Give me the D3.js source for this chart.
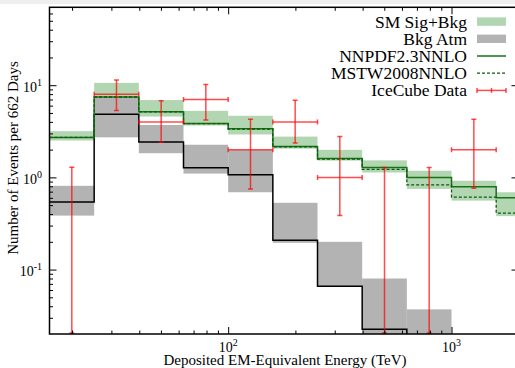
<!DOCTYPE html>
<html><head><meta charset="utf-8">
<script src="https://cdn.jsdelivr.net/npm/d3@7"></script>
<style>
body{margin:0;background:#fff;}
svg{display:block;}
text{font-family:"Liberation Serif","Times New Roman",serif;fill:#000;}
</style>
</head><body><svg id="c" width="515" height="368"></svg>
<script>
// ---- data ----
const binEdges   = [15.85, 25.12, 39.81, 63.10, 100, 158.5, 251.2, 398.1, 631.0, 1000, 1585, 2512];
const nnpdf      = [2.71, 7.45, 5.15, 3.85, 3.37, 2.16, 1.60, 1.28, 1.00, 0.79, 0.60];
const mstw       = [2.71, 7.45, 5.13, 3.83, 3.35, 2.14, 1.58, 1.22, 0.83, 0.61, 0.41];
const sigBkgHigh = [3.17, 10.6, 6.90, 5.27, 4.66, 2.77, 1.99, 1.53, 1.18, 0.92, 0.69];
const sigBkgLow  = [2.51, 5.80, 4.57, 3.65, 2.92, 2.05, 1.52, 1.13, 0.75, 0.56, 0.38];
const bkgAtm     = [0.54, 4.83, 2.42, 1.27, 1.07, 0.208, 0.066, 0.0225, 0.008, 0.003, 0.001];
const bkgAtmHigh = [0.81, 7.41, 3.70, 2.26, 1.99, 0.53, 0.20, 0.080, 0.037, 0.015, 0.005];
const bkgAtmLow  = [0.385, 2.72, 1.83, 1.10, 0.69, 0.195, 0.065, 0.012, 0.005, 0.002, 0.0008];
const dataEnergy = [19.95, 31.62, 50.12, 79.43, 125.9, 199.5, 316.2, 501.2, 794.3, 1259];
const dataCounts = [0, 8, 4, 7, 2, 4, 1, 0, 0, 2];
const dataUpper  = [1.29, 11.4, 6.8, 10.15, 4.28, 6.85, 2.77, 1.28, 1.28, 4.28];
const dataLower  = [0, 5.3, 2.4, 4.2, 0.75, 2.36, 0.385, 0, 0, 0.76];
const yMajor     = [0.1, 1, 10];
const yMajorExp  = ["-1", "0", "1"];
const yMinor     = [0.03,0.04,0.05,0.06,0.07,0.08,0.09,0.2,0.3,0.4,0.5,0.6,0.7,0.8,0.9,2,3,4,5,6,7,8,9,20,30,40,50,60];
const xMajor     = [100, 1000];
const xMajorExp  = ["2", "3"];
const xMinor     = [20,30,40,50,60,70,80,90,200,300,400,500,600,700,800,900];
const legendLabels = ["SM Sig+Bkg", "Bkg Atm", "NNPDF2.3NNLO", "MSTW2008NNLO", "IceCube Data"];

// ---- styles ----
const GREEN_BAND = "#b2d6b2", GRAY_BAND = "#b3b3b3", GREEN_LINE = "#157315", RED = "#ff0000";
const L = 49.5, R = 518.5, T = 7.3, B = 334;

const svg = d3.select("#c");
svg.append("rect").attr("x",0).attr("y",0).attr("width",515).attr("height",4).attr("fill","#efefef");

const x = d3.scaleLog().domain([binEdges[0], 1995]).range([L, R]);
const y = d3.scaleLog().domain([0.02, 70]).range([B, T]);

svg.append("clipPath").attr("id","clip").append("rect")
  .attr("x",L).attr("y",T).attr("width",R-L).attr("height",B-T);
const plot = svg.append("g").attr("clip-path","url(#clip)");

const nb = nnpdf.length;
const bins = d3.range(nb);

// bands
plot.append("g").selectAll("rect").data(bins).join("rect")
  .attr("x", i => x(binEdges[i])).attr("width", i => x(binEdges[i+1]) - x(binEdges[i]))
  .attr("y", i => y(sigBkgHigh[i])).attr("height", i => y(sigBkgLow[i]) - y(sigBkgHigh[i]))
  .attr("fill", GREEN_BAND);
plot.append("g").selectAll("rect").data(bins).join("rect")
  .attr("x", i => x(binEdges[i])).attr("width", i => x(binEdges[i+1]) - x(binEdges[i]))
  .attr("y", i => y(bkgAtmHigh[i])).attr("height", i => y(bkgAtmLow[i]) - y(bkgAtmHigh[i]))
  .attr("fill", GRAY_BAND);

// step lines
const step = d3.line().x(d => x(d[0])).y(d => y(d[1])).curve(d3.curveStepAfter);
const stepPts = vals => bins.map(i => [binEdges[i], vals[i]]).concat([[binEdges[nb], vals[nb-1]]]);
plot.append("path").attr("d", step(stepPts(bkgAtm))).attr("fill","none").attr("stroke","#000").attr("stroke-width",1.5);
plot.append("path").attr("d", step(stepPts(nnpdf))).attr("fill","none").attr("stroke",GREEN_LINE).attr("stroke-width",1.5);
plot.append("path").attr("d", step(stepPts(mstw))).attr("fill","none").attr("stroke","#0d5a0d").attr("stroke-width",1.3).attr("stroke-dasharray","3,2");

// data error bars
const dg = plot.append("g").attr("stroke",RED).attr("stroke-opacity",0.7).attr("stroke-width",1.5).attr("fill","none");
const cap = 2.5;
dataEnergy.forEach((e, i) => {
  const cx = x(e);
  const yTop = y(dataUpper[i]);
  const yBot = dataLower[i] > 0 ? y(dataLower[i]) : B;
  dg.append("line").attr("x1",cx).attr("x2",cx).attr("y1",yTop).attr("y2",yBot);
  dg.append("line").attr("x1",cx-cap).attr("x2",cx+cap).attr("y1",yTop).attr("y2",yTop);
  dg.append("line").attr("x1",cx-cap).attr("x2",cx+cap).attr("y1",yBot-(dataLower[i]>0?0:1)).attr("y2",yBot-(dataLower[i]>0?0:1));
  if (dataCounts[i] > 0) {
    const cy = y(dataCounts[i]);
    const x0 = x(binEdges[i]), x1 = x(binEdges[i+1]);
    dg.append("line").attr("x1",x0).attr("x2",x1).attr("y1",cy).attr("y2",cy);
    dg.append("line").attr("x1",x0).attr("x2",x0).attr("y1",cy-cap).attr("y2",cy+cap);
    dg.append("line").attr("x1",x1).attr("x2",x1).attr("y1",cy-cap).attr("y2",cy+cap);
  }
});

// axes (ticks inward, mirrored)
function styleAxis(g){ g.select(".domain").remove(); g.selectAll(".tick line").attr("stroke","#000").attr("stroke-width",1); }
svg.append("g").attr("transform",`translate(0,${B})`).call(d3.axisBottom(x).tickValues(xMajor).tickSize(-7).tickFormat("")).call(styleAxis);
svg.append("g").attr("transform",`translate(0,${B})`).call(d3.axisBottom(x).tickValues(xMinor).tickSize(-3.5).tickFormat("")).call(styleAxis);
svg.append("g").attr("transform",`translate(0,${T})`).call(d3.axisTop(x).tickValues(xMajor).tickSize(-7).tickFormat("")).call(styleAxis);
svg.append("g").attr("transform",`translate(0,${T})`).call(d3.axisTop(x).tickValues(xMinor).tickSize(-3.5).tickFormat("")).call(styleAxis);
svg.append("g").attr("transform",`translate(${L},0)`).call(d3.axisLeft(y).tickValues(yMajor).tickSize(-7).tickFormat("")).call(styleAxis);
svg.append("g").attr("transform",`translate(${L},0)`).call(d3.axisLeft(y).tickValues(yMinor).tickSize(-3.5).tickFormat("")).call(styleAxis);
svg.append("g").attr("transform",`translate(${R},0)`).call(d3.axisRight(y).tickValues(yMajor).tickSize(-7).tickFormat("")).call(styleAxis);
svg.append("g").attr("transform",`translate(${R},0)`).call(d3.axisRight(y).tickValues(yMinor).tickSize(-3.5).tickFormat("")).call(styleAxis);

svg.append("rect").attr("x",L).attr("y",T).attr("width",R-L).attr("height",B-T)
  .attr("fill","none").attr("stroke","#000").attr("stroke-width",1.5);

// tick labels
yMajor.forEach((v, i) => {
  const t = svg.append("text").attr("x", 42).attr("y", y(v) + 6.3).attr("text-anchor","end").attr("font-size",14);
  t.append("tspan").text("10");
  t.append("tspan").attr("font-size",10).attr("dy",-5.6).text(yMajorExp[i]);
});
xMajor.forEach((v, i) => {
  const t = svg.append("text").attr("x", x(v)).attr("y", 351.5).attr("text-anchor","middle").attr("font-size",14);
  t.append("tspan").text("10");
  t.append("tspan").attr("font-size",10).attr("dy",-6).text(xMajorExp[i]);
});

// axis titles
svg.append("text").attr("x", 285).attr("y", 365).attr("text-anchor","middle").attr("font-size",15)
  .text("Deposited EM-Equivalent Energy (TeV)");
svg.append("text").attr("transform","translate(17.5,158) rotate(-90)").attr("text-anchor","middle").attr("font-size",15)
  .text("Number of Events per 662 Days");

// legend
const lg = svg.append("g");
const sx0 = 477, sx1 = 506;
legendLabels.forEach((lab, i) => {
  const cy = 21.6 + 17.2 * i;
  lg.append("text").attr("x", 467).attr("y", cy + 6).attr("text-anchor","end").attr("font-size",17.5).text(lab);
  if (i === 0) lg.append("rect").attr("x",sx0).attr("y",cy-4.2).attr("width",sx1-sx0).attr("height",8.4).attr("fill",GREEN_BAND);
  if (i === 1) lg.append("rect").attr("x",sx0).attr("y",cy-4.2).attr("width",sx1-sx0).attr("height",8.4).attr("fill",GRAY_BAND);
  if (i === 2) lg.append("line").attr("x1",sx0).attr("x2",sx1).attr("y1",cy).attr("y2",cy).attr("stroke",GREEN_LINE).attr("stroke-width",1.5);
  if (i === 3) lg.append("line").attr("x1",sx0).attr("x2",sx1).attr("y1",cy).attr("y2",cy).attr("stroke","#0d5a0d").attr("stroke-width",1.3).attr("stroke-dasharray","3,2");
  if (i === 4) {
    const g = lg.append("g").attr("stroke",RED).attr("stroke-opacity",0.7).attr("stroke-width",1.5);
    g.append("line").attr("x1",sx0).attr("x2",sx1).attr("y1",cy).attr("y2",cy);
    g.append("line").attr("x1",sx0).attr("x2",sx0).attr("y1",cy-cap).attr("y2",cy+cap);
    g.append("line").attr("x1",sx1).attr("x2",sx1).attr("y1",cy-cap).attr("y2",cy+cap);
    g.append("line").attr("x1",(sx0+sx1)/2).attr("x2",(sx0+sx1)/2).attr("y1",cy-cap).attr("y2",cy+cap);
  }
});
</script>
</body></html>
